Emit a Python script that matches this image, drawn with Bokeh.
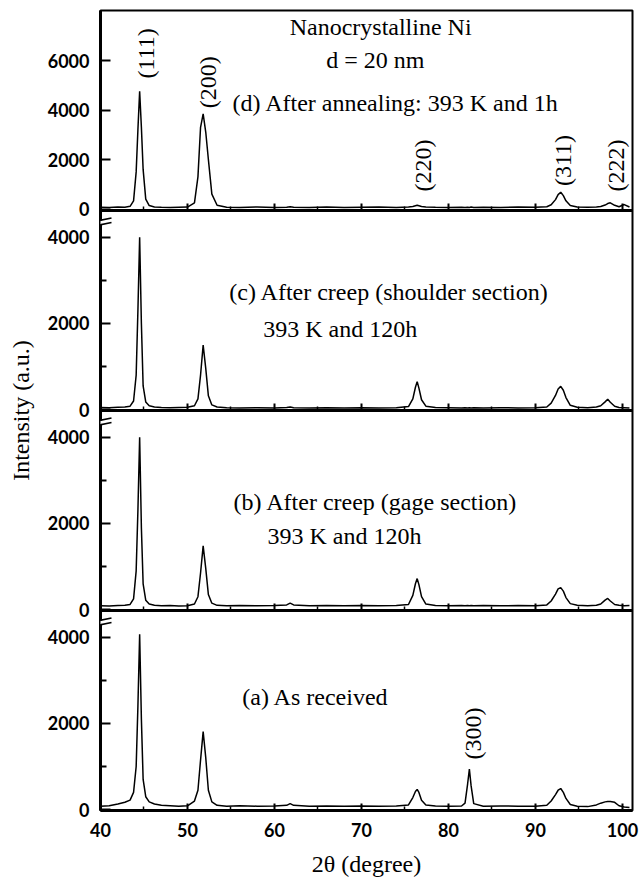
from math import pi
from bokeh.plotting import figure
from bokeh.models import Range1d, FixedTicker, Label, Arrow, LinearAxis
from bokeh.embed import file_html
from bokeh.resources import INLINE

# ---------------- data ----------------
two_theta = [
    40.0, 41.0, 42.0, 42.8, 43.4, 43.8,
    44.1, 44.3, 44.5, 44.7, 44.9, 45.2, 45.6,
    46.2, 47.0, 48.0, 49.0, 50.0, 50.8,
    51.2, 51.5, 51.8, 52.1, 52.4, 52.8, 53.4,
    54.5, 56.0, 58.0, 60.0, 61.4, 61.8, 62.2, 64.0, 66.0, 68.0, 70.0, 72.0, 74.0,
    75.4, 75.9, 76.2, 76.4, 76.6, 76.9, 77.4,
    78.5, 80.0, 81.5,
    81.9, 82.2, 82.4, 82.6, 82.9,
    84.0, 86.0, 88.0, 90.0, 91.3,
    91.8, 92.3, 92.6, 92.9, 93.2, 93.5, 94.0,
    94.8, 96.0, 97.0,
    97.5, 98.0, 98.3, 98.6, 99.1, 99.6, 100.2, 100.8,
]

# (d) after annealing 393 K, 1h
int_d = [
    70, 60, 80, 70, 110, 330,
    1500, 3200, 4760, 3300, 1600, 400, 140,
    80, 70, 60, 70, 80, 250,
    1300, 3300, 3840, 3100, 2000, 600, 150,
    70, 60, 80, 60, 70, 90, 70, 60, 80, 60, 70, 80, 60,
    80, 100, 130, 150, 130, 100, 80,
    70, 60, 70,
    60, 70, 60, 80, 60,
    70, 60, 80, 70, 90,
    170, 380, 580, 680, 540, 330, 140,
    80, 70, 80,
    100, 160, 220, 250, 150, 90, 180, 80,
]

# (c) after creep, shoulder section
int_c = [
    50, 45, 55, 60, 80, 200,
    800, 2300, 4000, 2000, 550, 180, 90,
    60, 50, 45, 50, 55, 90,
    250, 800, 1500, 950, 320, 110, 60,
    45, 40, 45, 40, 50, 60, 45, 40, 45, 40, 45, 40, 45,
    70, 250, 520, 650, 500, 230, 80,
    50, 45, 40,
    45, 40, 45, 40, 45,
    40, 45, 40, 45, 60,
    150, 330, 480, 540, 450, 280, 100,
    55, 45, 60,
    90, 180, 240, 170, 80, 50, 45, 40,
]

# (b) after creep, gage section
int_b = [
    90, 85, 95, 100, 120, 250,
    900, 2300, 4000, 1900, 600, 220, 130,
    100, 90, 95, 85, 90, 130,
    300, 850, 1480, 950, 350, 150, 100,
    90, 95, 90, 95, 110, 150, 110, 90, 95, 90, 95, 90, 95,
    120, 330, 600, 720, 580, 300, 130,
    95, 90, 95,
    90, 95, 90, 95, 90,
    95, 90, 95, 90, 110,
    200, 360, 480, 510, 430, 280, 140,
    100, 90, 100,
    130, 220, 260, 200, 120, 100, 90, 95,
]

# (a) as received
int_a = [
    80, 90, 130, 170, 220, 400,
    1000, 2400, 4070, 2100, 700, 300, 180,
    130, 100, 90, 80, 90, 200,
    450, 1150, 1810, 1200, 450, 180, 100,
    80, 90, 80, 85, 100, 140, 100, 80, 85, 80, 85, 80, 85,
    110, 280, 420, 470, 400, 220, 110,
    85, 80, 85,
    150, 600, 940, 550, 140,
    80, 85, 80, 80, 100,
    200, 350, 450, 490, 400, 260, 120,
    80, 70, 110,
    150, 180, 190, 190, 170, 90, 60, 50,
]

x_major = [40, 50, 60, 70, 80, 90, 100]
x_minor = [45, 55, 65, 75, 85, 95]
y_major_d = [0, 2000, 4000, 6000]
y_major_abc = [0, 2000, 4000]
y_minor_abc = [1000, 3000]

# peak labels: (text, 2theta, intensity) per panel
peaks_d = [("(111)", 45.2, 6290), ("(200)", 52.3, 5120), ("(220)", 77.1, 1760),
           ("(311)", 93.2, 1960), ("(222)", 99.2, 1760)]
peaks_a = [("(300)", 82.76, 1766)]

# panel captions: (text, x, y, align)
texts_d = [("Nanocrystalline Ni", 72.2, 7343, "center"),
           ("d = 20 nm", 71.6, 6010, "center"),
           ("(d) After annealing: 393 K and 1h", 55.17, 4272, "left")]
texts_c = [("(c) After creep (shoulder section)", 54.8, 2718, "left"),
           ("393 K and 120h", 58.7, 1882, "left")]
texts_b = [("(b) After creep (gage section)", 55.3, 2486, "left"),
           ("393 K and 120h", 59.2, 1720, "left")]
texts_a = [("(a) As received", 56.3, 2602, "left")]

# ---------------- styling / layout ----------------
SERIF = "Liberation Serif"
TICKF = "Lato"
TICK_SIZE = "18px"
X_START, X_END = 40.0, 101.15
FRAME_W, PANEL_H = 532, 200
LEFT, RIGHT, TOP, BOTTOM = 100, 7, 10, 72
PX_PER_X = FRAME_W / (X_END - X_START)

panels = [  # top to bottom
    dict(name="d", y=int_d, yr=(-60, 8020), major=y_major_d, minor=[], brk=False,
         texts=texts_d, peaks=peaks_d),
    dict(name="c", y=int_c, yr=(-20, 4620), major=y_major_abc, minor=y_minor_abc, brk=True,
         texts=texts_c, peaks=[]),
    dict(name="b", y=int_b, yr=(-20, 4620), major=y_major_abc, minor=y_minor_abc, brk=True,
         texts=texts_b, peaks=[]),
    dict(name="a", y=int_a, yr=(-20, 4620), major=y_major_abc, minor=y_minor_abc, brk=True,
         texts=texts_a, peaks=peaks_a),
]
n = len(panels)
FRAME_H = n * PANEL_H

# every panel gets its own y range spanning the whole frame, so that its
# own interval (yr) lands in its own horizontal band
full_ranges = {}
for k, pn in enumerate(panels):
    s, e = pn["yr"]
    u = (e - s) / PANEL_H
    pn["u"] = u
    pn["k"] = k
    full_ranges[pn["name"]] = Range1d(s - (FRAME_H - (k + 1) * PANEL_H) * u,
                                      e + k * PANEL_H * u)

base_pn = panels[-1]
base = base_pn["name"]
base_rng = full_ranges[base]


def to_base(pn, v):
    """position, in the shared (bottom panel) y range, of value v of panel pn"""
    px_from_bottom = (n - 1 - pn["k"]) * PANEL_H + (v - pn["yr"][0]) / pn["u"]
    return round(base_rng.start + px_from_bottom * base_pn["u"], 6)


p = figure(frame_width=FRAME_W, frame_height=FRAME_H,
           x_range=Range1d(X_START, X_END), y_range=base_rng,
           output_backend="svg", toolbar_location=None,
           min_border_left=LEFT, min_border_right=RIGHT,
           min_border_top=TOP, min_border_bottom=BOTTOM,
           background_fill_color="white", border_fill_color="white")
p.extra_y_ranges = {pn["name"]: full_ranges[pn["name"]] for pn in panels[:-1]}
p.xgrid.visible = False
p.ygrid.visible = False
p.outline_line_color = "black"
p.outline_line_width = 2


def rn(pn):
    return "default" if pn["name"] == base else pn["name"]


def style_x(ax, labels):
    ax.ticker = FixedTicker(ticks=x_major, minor_ticks=x_minor)
    ax.axis_line_width = 3
    ax.major_tick_in = 7
    ax.major_tick_out = 0
    ax.minor_tick_in = 4
    ax.minor_tick_out = 0
    ax.major_tick_line_width = 2
    ax.minor_tick_line_width = 1.5
    if labels:
        ax.major_label_text_font = TICKF
        ax.major_label_text_font_size = TICK_SIZE
        ax.major_label_text_font_style = "bold"
        ax.major_label_text_color = "black"
        ax.major_label_standoff = 12
    else:
        ax.major_label_text_font_size = "0px"
        ax.major_label_text_color = None
        ax.major_label_standoff = 0


# bottom x axis (with labels)
xa = p.xaxis[0]
style_x(xa, True)
xa.axis_label = "2\u03b8 (degree)"
xa.axis_label_text_font = SERIF
xa.axis_label_text_font_size = "24px"
xa.axis_label_text_font_style = "normal"
xa.axis_label_text_color = "black"
xa.axis_label_standoff = 11

# one left axis carrying the ticks of all four panels
major_pos, minor_pos, overrides = [], [], {}
for pn in panels:
    for v in pn["major"]:
        pos = to_base(pn, v)
        major_pos.append(pos)
        overrides[pos] = str(v)
    for v in pn["minor"]:
        minor_pos.append(to_base(pn, v))

ya = p.yaxis[0]
ya.ticker = FixedTicker(ticks=major_pos, minor_ticks=minor_pos)
ya.major_label_overrides = overrides
ya.axis_line_width = 3
ya.major_tick_in = 10
ya.major_tick_out = 0
ya.minor_tick_in = 6
ya.minor_tick_out = 0
ya.major_tick_line_width = 2
ya.minor_tick_line_width = 2
ya.major_label_text_font = TICKF
ya.major_label_text_font_size = TICK_SIZE
ya.major_label_text_font_style = "bold"
ya.major_label_text_color = "black"
ya.major_label_standoff = 11
ya.axis_label = "Intensity (a.u.)"
ya.axis_label_text_font = SERIF
ya.axis_label_text_font_size = "24px"
ya.axis_label_text_font_style = "normal"
ya.axis_label_text_color = "black"
ya.axis_label_standoff = 11

for pn in panels:
    r = rn(pn)
    s, e = pn["yr"]
    u = pn["u"]

    p.line(two_theta, pn["y"], line_color="black", line_width=1.5, y_range_name=r)

    # inner bottom axis (boundary between panels)
    if pn["k"] < n - 1:
        xb = LinearAxis(y_range_name=r, fixed_location=s)
        style_x(xb, False)
        p.add_layout(xb, "below")

    for (t, x, y, al) in pn["texts"]:
        p.add_layout(Label(x=x, y=y, y_range_name=r, text=t, text_align=al,
                           text_baseline="middle", text_font=SERIF,
                           text_font_size="24px", text_color="black"))
    for (t, x, y) in pn["peaks"]:
        p.add_layout(Label(x=x, y=y, y_range_name=r, text=t, angle=pi / 2,
                           text_align="center", text_baseline="middle",
                           text_font=SERIF, text_font_size="24px", text_color="black"))

    if pn["brk"]:
        y0 = e - 12 * u
        dy = 4.5 * u
        xl = X_START - 11 / PX_PER_X
        xr = X_START + 11 / PX_PER_X
        p.add_layout(Arrow(start=None, end=None, x_start=xl, y_start=y0 - dy / 2,
                           x_end=xr, y_end=y0 + dy / 2, y_range_name=r,
                           line_color="white", line_width=3))
        for off in (dy / 2, -dy / 2):
            p.add_layout(Arrow(start=None, end=None, x_start=xl, y_start=y0 - dy / 2 + off,
                               x_end=xr, y_end=y0 + dy / 2 + off, y_range_name=r,
                               line_color="black", line_width=1.6))

open("out.html", "w").write(file_html(p, INLINE))
